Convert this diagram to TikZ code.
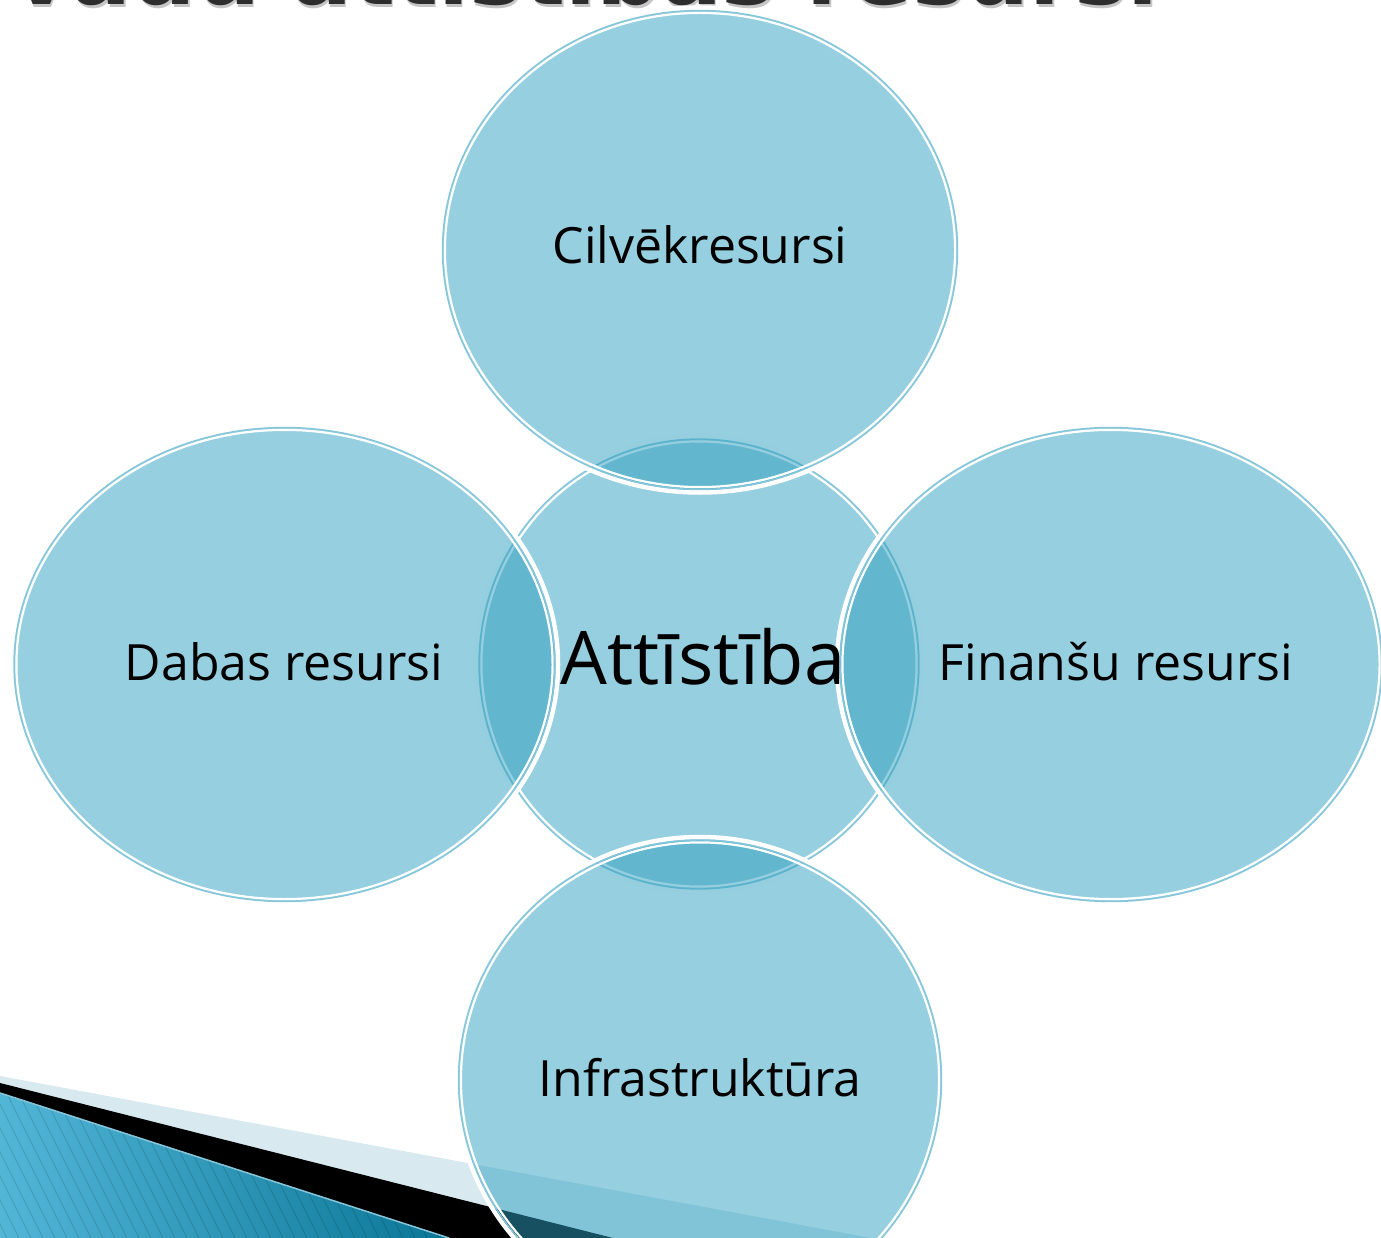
\documentclass[tikz,border=0pt]{standalone}
\usepackage{fontspec}
\setmainfont{Open Sans}
\newfontfamily\titlefont{DejaVu Sans}
\definecolor{bub}{RGB}{47,160,192}
\definecolor{rimc}{RGB}{134,198,218}
\definecolor{bandc}{RGB}{216,233,240}
\definecolor{stripeL}{RGB}{82,182,215}
\definecolor{stripeR}{RGB}{10,118,150}
\definecolor{titlec}{RGB}{45,45,45}
\newcommand\Bubble[4]{%
  \fill[bubfill] (#1,#2) ellipse [x radius=#3pt, y radius=#4pt];
  \draw[glow] (#1,#2) ellipse [x radius=#3pt+3pt, y radius=#4pt+3pt];
  \draw[innerline] (#1,#2) ellipse [x radius=#3pt-2.4pt, y radius=#4pt-2.4pt];
  \draw[rim] (#1,#2) ellipse [x radius=#3pt, y radius=#4pt];}
\begin{document}
\begin{tikzpicture}[x=1pt,y=-1pt,
  bubfill/.style={fill=bub, fill opacity=0.505},
  glow/.style={draw=white, line width=4.5pt},
  innerline/.style={draw=white, line width=2.2pt},
  rim/.style={draw=rimc, line width=1.4pt},
  lbl/.style={font=\fontsize{50}{60}\selectfont, text=black, inner sep=0pt, anchor=base},
  biglbl/.style={font=\fontsize{74}{86}\selectfont, text=black, inner sep=0pt, anchor=base},
  titlefnt/.style={font=\titlefont\bfseries\fontsize{90}{100}\selectfont, inner sep=0pt, anchor=base west}]
\useasboundingbox (0,0) rectangle (1381,1238);
\clip (0,0) rectangle (1381,1238);
% title fragment
\node[titlefnt, text=gray, opacity=0.45] (titleshadow) at (13.5,7.5) {vadu attīstības resursi};
\node[titlefnt, text=titlec] (title) at (12,5) {vadu attīstības resursi};
% corner decoration
\fill[bandc] (0,1076) -- (871,1238) -- (0,1238) -- cycle;
\fill[black] (0,1083) -- (613,1238) -- (0,1238) -- cycle;
\shade[left color=stripeL, right color=stripeR] (0,1093) -- (449,1238) -- (0,1238) -- cycle;
\begin{scope}
  \clip (0,1093) -- (449,1238) -- (0,1238) -- cycle;
  \foreach \i in {-40,...,40}
    \draw[black, opacity=0.12, line width=1pt] ({\i*12},1080) -- ({\i*12+85},1250);
\end{scope}
\draw[rimc, line width=1.5pt] (0,1093) -- (449,1238);
% bubbles
\Bubble{699}{664}{220}{225}
\Bubble{700}{250}{257.5}{239.5}
\Bubble{284.5}{664.5}{270.5}{237}
\Bubble{1111}{664.5}{271}{237}
\Bubble{700}{1080}{241.5}{240}
% labels
\node[biglbl] (att) at (703,684) {Attīstība};
\node[lbl] (cilv) at (700,264) {Cilvēkresursi};
\node[lbl] (dab) at (284,680) {Dabas resursi};
\node[lbl] (fin) at (1116,680) {Finanšu resursi};
\node[lbl] (infra) at (700,1096) {Infrastruktūra};
\end{tikzpicture}
\end{document}
